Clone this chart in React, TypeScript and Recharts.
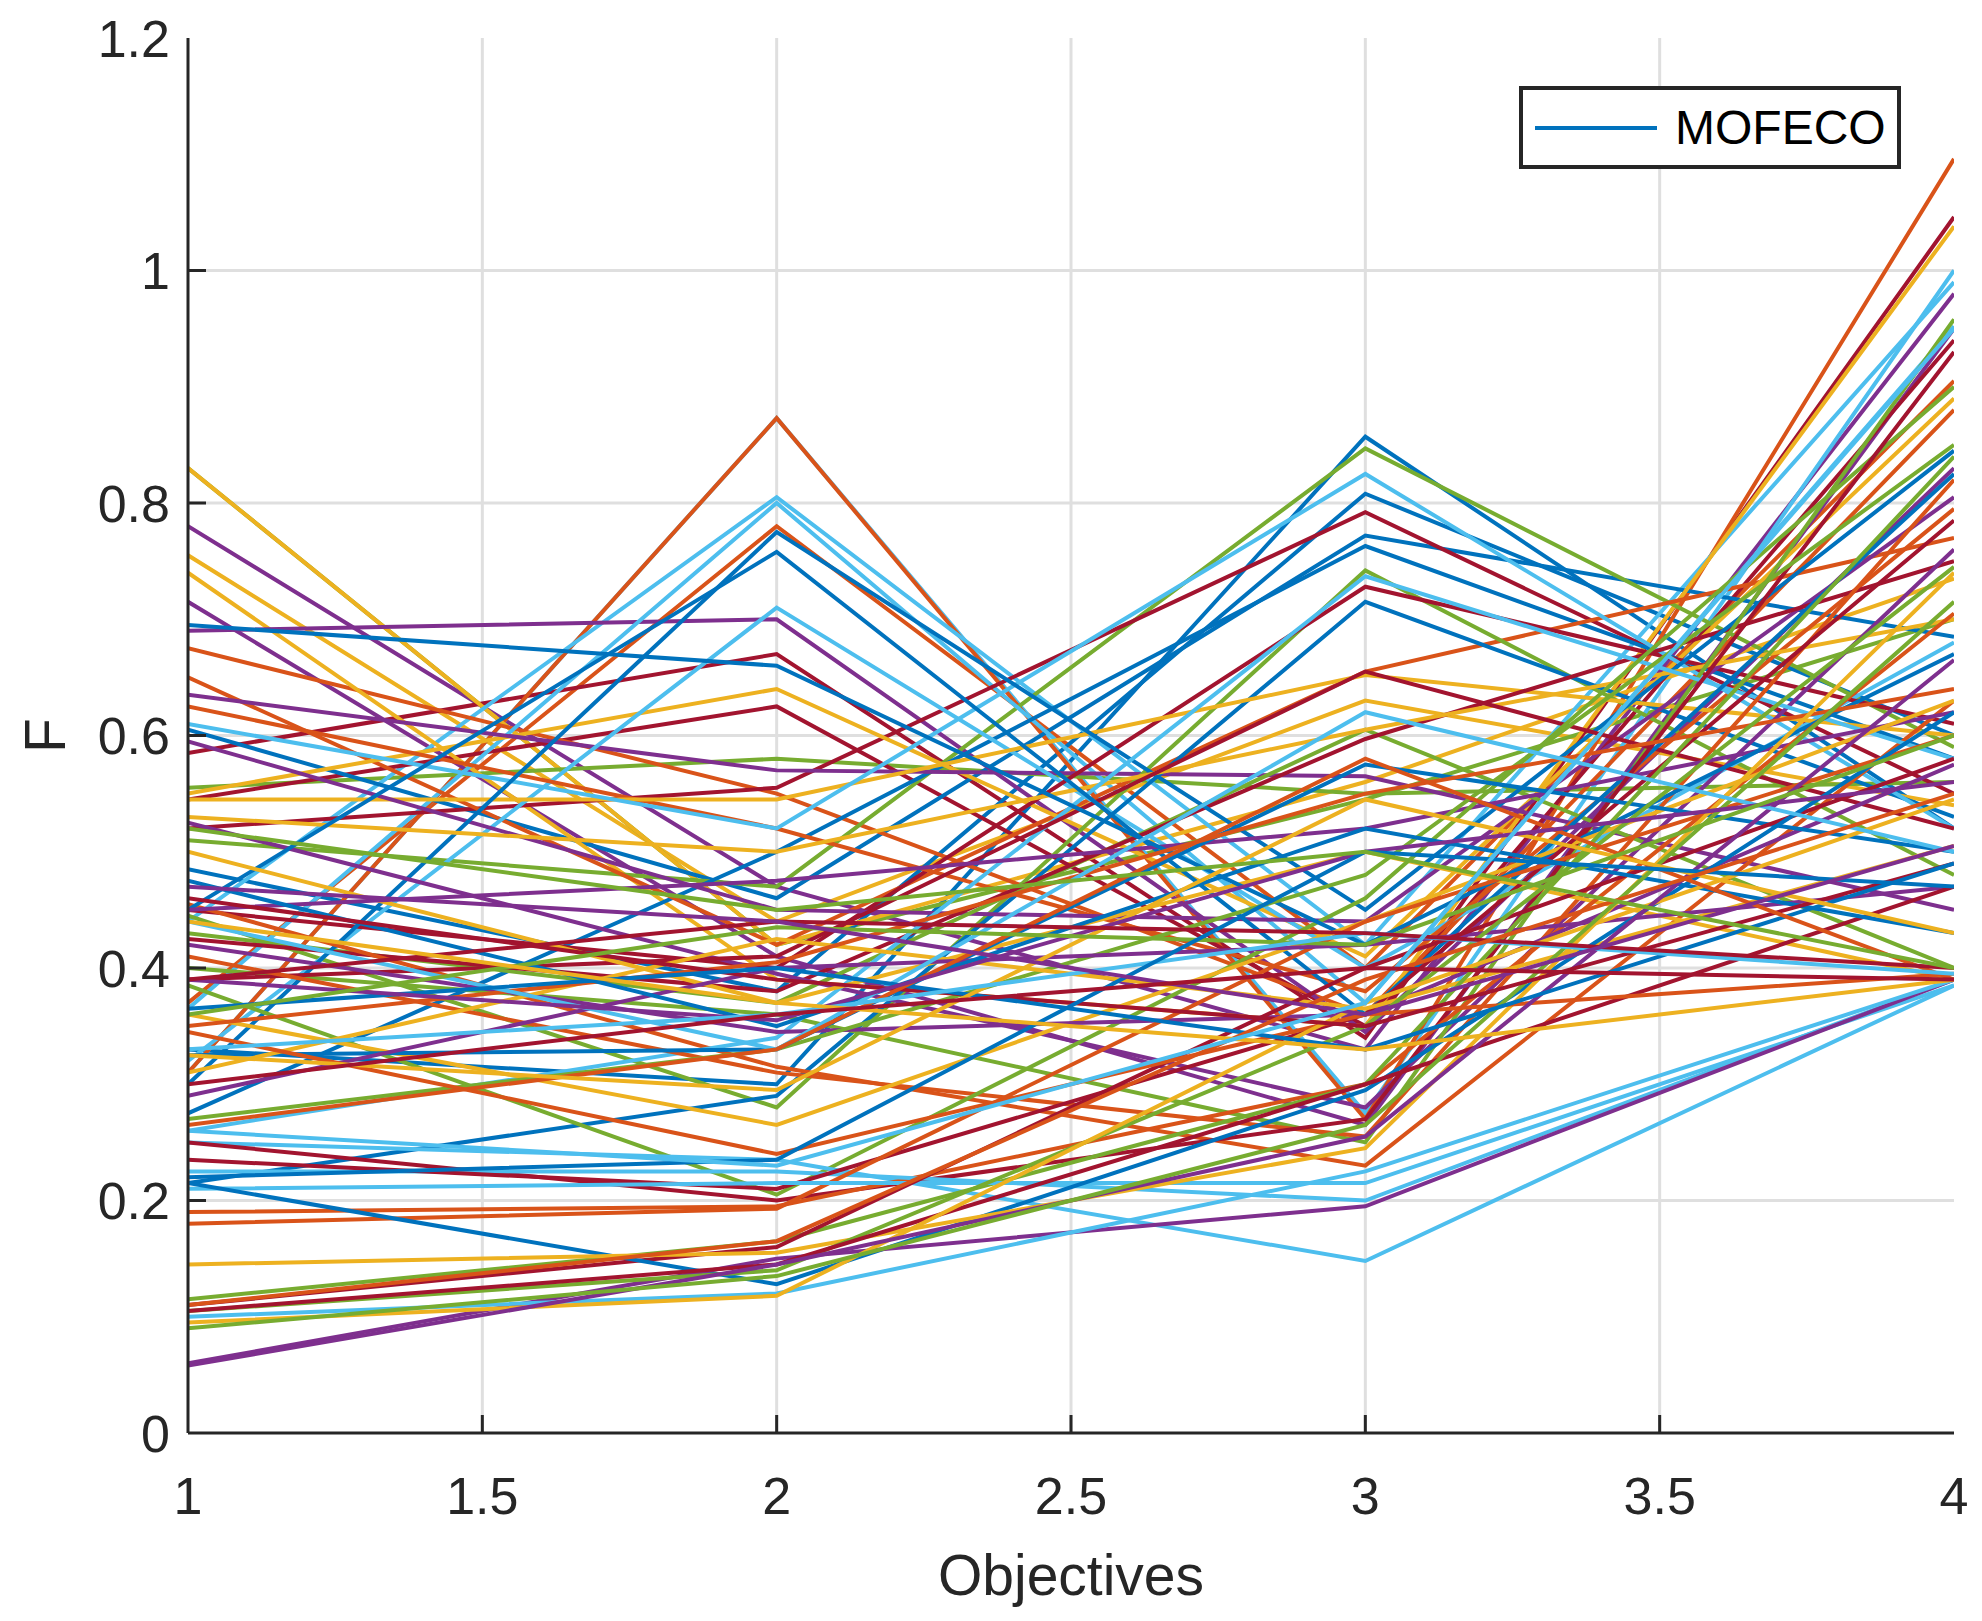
import React from 'react';
import { LineChart, Line, XAxis, YAxis, CartesianGrid, Legend } from 'recharts';

// MATLAB default colour order, applied to the solutions in turn
const COLORS = ['#0072BD', '#D95319', '#EDB120', '#7E2F8E', '#77AC30', '#4DBEEE', '#A2142F'];

const OBJECTIVES = [1, 2, 3, 4];
const X_TICKS = [1, 1.5, 2, 2.5, 3, 3.5, 4];
const Y_TICKS = [0, 0.2, 0.4, 0.6, 0.8, 1, 1.2];
const SERIES_NAME = 'MOFECO';

// one row per solution: F at objectives 1..4
const SOLUTIONS: number[][] = [
  [0.33, 0.30, 0.857, 0.52],
  [0.37, 0.78, 0.40, 0.905],
  [0.755, 0.44, 0.63, 0.54],
  [0.78, 0.47, 0.33, 0.98],
  [0.83, 0.42, 0.545, 0.70],
  [0.31, 0.873, 0.275, 1.0],
  [0.585, 0.67, 0.34, 1.046],

  [0.485, 0.38, 0.808, 0.60],
  [0.31, 0.873, 0.27, 1.096],
  [0.83, 0.42, 0.56, 0.735],
  [0.715, 0.41, 0.265, 0.95],
  [0.555, 0.58, 0.55, 0.56],
  [0.44, 0.805, 0.42, 0.99],
  [0.545, 0.625, 0.35, 0.94],

  [0.605, 0.46, 0.772, 0.685],
  [0.675, 0.55, 0.36, 0.88],
  [0.74, 0.39, 0.35, 1.038],
  [0.69, 0.70, 0.345, 0.83],
  [0.51, 0.47, 0.847, 0.59],
  [0.365, 0.80, 0.37, 0.952],
  [0.52, 0.555, 0.792, 0.55],

  [0.275, 0.50, 0.763, 0.58],
  [0.65, 0.42, 0.655, 0.77],
  [0.55, 0.64, 0.41, 0.89],
  [0.635, 0.57, 0.565, 0.45],
  [0.445, 0.28, 0.742, 0.48],
  [0.32, 0.71, 0.40, 0.68],
  [0.45, 0.40, 0.728, 0.61],

  [0.215, 0.29, 0.715, 0.53],
  [0.625, 0.52, 0.38, 0.795],
  [0.545, 0.545, 0.652, 0.60],
  [0.595, 0.45, 0.44, 0.805],
  [0.43, 0.37, 0.605, 0.40],
  [0.61, 0.52, 0.825, 0.52],
  [0.425, 0.38, 0.597, 0.75],

  [0.30, 0.775, 0.45, 0.845],
  [0.455, 0.315, 0.23, 0.63],
  [0.53, 0.50, 0.605, 0.70],
  [0.525, 0.395, 0.28, 0.76],
  [0.40, 0.36, 0.25, 0.958],
  [0.26, 0.34, 0.737, 0.58],
  [0.39, 0.41, 0.655, 0.52],

  [0.45, 0.758, 0.36, 0.825],
  [0.41, 0.31, 0.255, 0.82],
  [0.50, 0.37, 0.50, 0.39],
  [0.45, 0.475, 0.52, 0.62],
  [0.385, 0.205, 0.46, 0.90],
  [0.25, 0.235, 0.148, 0.385],
  [0.25, 0.20, 0.27, 0.93],

  [0.695, 0.66, 0.42, 0.67],
  [0.19, 0.195, 0.30, 0.705],
  [0.36, 0.265, 0.44, 0.63],
  [0.42, 0.345, 0.36, 0.575],
  [0.27, 0.33, 0.48, 0.85],
  [0.225, 0.225, 0.20, 0.39],
  [0.235, 0.21, 0.36, 0.785],

  [0.325, 0.33, 0.575, 0.50],
  [0.18, 0.193, 0.44, 0.60],
  [0.31, 0.425, 0.365, 0.505],
  [0.29, 0.40, 0.42, 0.47],
  [0.115, 0.165, 0.30, 0.84],
  [0.21, 0.215, 0.215, 0.385],
  [0.11, 0.16, 0.40, 0.58],

  [0.215, 0.128, 0.295, 0.62],
  [0.35, 0.405, 0.55, 0.64],
  [0.145, 0.155, 0.245, 0.74],
  [0.06, 0.15, 0.195, 0.39],
  [0.105, 0.14, 0.35, 0.745],
  [0.10, 0.12, 0.225, 0.39],
  [0.105, 0.145, 0.30, 0.47],

  [0.475, 0.35, 0.52, 0.43],
  [0.345, 0.24, 0.36, 0.395],
  [0.095, 0.118, 0.37, 0.545],
  [0.058, 0.145, 0.255, 0.665],
  [0.09, 0.135, 0.265, 0.715],
  [0.44, 0.33, 0.62, 0.50],
  [0.46, 0.39, 0.35, 0.49],

  [0.365, 0.40, 0.33, 0.49],
  [0.265, 0.33, 0.58, 0.39],
  [0.325, 0.295, 0.545, 0.43],
  [0.39, 0.355, 0.50, 0.56],
  [0.36, 0.435, 0.42, 0.60],
  [0.33, 0.36, 0.43, 0.395],
  [0.39, 0.44, 0.43, 0.40],

  [0.22, 0.235, 0.50, 0.47],
  [0.11, 0.165, 0.39, 0.55],
  [0.44, 0.37, 0.33, 0.39],
  [0.47, 0.44, 0.36, 0.505],
  [0.52, 0.45, 0.50, 0.40],
  [0.26, 0.23, 0.37, 0.95],
  [0.30, 0.36, 0.40, 0.39],
];

const data = OBJECTIVES.map((x, j) => {
  const row: Record<string, number> = { x };
  SOLUTIONS.forEach((s, i) => {
    row[`s${i}`] = s[j];
  });
  return row;
});

const FONT = '"Liberation Sans", Arial, Helvetica, sans-serif';
const AXIS = '#262626';
const TICK_LEN = 18;
const X_MARGIN = 44;
const Y_MARGIN = 18;
const LEGEND_H = 83;
const W = 1966;
const H = 1605;

const BottomTick = (props: any) => {
  const { x, y, payload } = props;
  const axisY = y - X_MARGIN;
  return (
    <g>
      {payload.value !== 1 && payload.value !== 4 && (
        <line x1={x} x2={x} y1={axisY} y2={axisY - TICK_LEN} stroke={AXIS} strokeWidth={3} />
      )}
      <text x={x} y={y} dy="0.72em" textAnchor="middle" fill={AXIS} fontSize={52} fontFamily={FONT}>
        {payload.value}
      </text>
    </g>
  );
};

const LeftTick = (props: any) => {
  const { x, y, payload } = props;
  const axisX = x + Y_MARGIN;
  return (
    <g>
      {payload.value !== 0 && payload.value !== 1.2 && (
        <line x1={axisX} x2={axisX + TICK_LEN} y1={y} y2={y} stroke={AXIS} strokeWidth={3} />
      )}
      <text x={x} y={y} dy="0.36em" textAnchor="end" fill={AXIS} fontSize={52} fontFamily={FONT}>
        {payload.value}
      </text>
    </g>
  );
};

const TopTick = (props: any) => {
  const { x, y, payload } = props;
  if (payload.value === 1 || payload.value === 4) return <g />;
  return <line x1={x} x2={x} y1={y} y2={y + TICK_LEN} stroke={AXIS} strokeWidth={3} />;
};

const RightTick = (props: any) => {
  const { x, y, payload } = props;
  if (payload.value === 0 || payload.value === 1.2) return <g />;
  return <line x1={x} x2={x - TICK_LEN} y1={y} y2={y} stroke={AXIS} strokeWidth={3} />;
};

const renderLegend = () => (
  <div
    style={{
      boxSizing: 'border-box',
      width: 382,
      height: LEGEND_H,
      border: `4px solid ${AXIS}`,
      background: '#fff',
      display: 'flex',
      alignItems: 'center',
      fontFamily: FONT,
      fontSize: 48,
      color: '#000',
    }}
  >
    <svg width={140} height={20} style={{ marginLeft: 12 }}>
      <line x1={0} x2={122} y1={10} y2={10} stroke={COLORS[0]} strokeWidth={4} />
    </svg>
    <span>{SERIES_NAME}</span>
  </div>
);

export default function App() {
  return (
    <div style={{ width: W, height: H, background: '#fff' }}>
      <LineChart
        width={W}
        height={H}
        data={data}
        margin={{ top: 30, right: 20, bottom: 100 - LEGEND_H, left: 100 }}
      >
        <CartesianGrid
          stroke="#dfdfdf"
          strokeWidth={3}
          verticalValues={[1.5, 2, 2.5, 3, 3.5]}
          horizontalValues={[0.2, 0.4, 0.6, 0.8, 1]}
        />
        <XAxis
          dataKey="x"
          type="number"
          domain={[1, 4]}
          ticks={X_TICKS}
          interval={0}
          height={80}
          tickSize={0}
          tickMargin={X_MARGIN}
          tick={<BottomTick />}
          stroke={AXIS}
          strokeWidth={3}
          allowDataOverflow
          label={(p: any) => {
            const vb = p.viewBox || {};
            return (
              <text
                x={vb.x + vb.width / 2}
                y={vb.y + 162}
                textAnchor="middle"
                fill={AXIS}
                fontSize={57}
                fontFamily={FONT}
              >
                Objectives
              </text>
            );
          }}
        />
        <XAxis
          xAxisId="top"
          dataKey="x"
          type="number"
          orientation="top"
          domain={[1, 4]}
          ticks={X_TICKS}
          interval={0}
          height={0}
          tickSize={0}
          tick={<TopTick />}
          stroke={AXIS}
          strokeWidth={3}
          allowDataOverflow
        />
        <YAxis
          type="number"
          domain={[0, 1.2]}
          ticks={Y_TICKS}
          interval={0}
          width={80}
          tickSize={0}
          tickMargin={Y_MARGIN}
          tick={<LeftTick />}
          stroke={AXIS}
          strokeWidth={3}
          allowDataOverflow
          label={(p: any) => {
            const vb = p.viewBox || {};
            const cx = 36;
            const cy = vb.y + vb.height / 2;
            return (
              <text
                x={cx}
                y={cy}
                transform={`rotate(-90 ${cx} ${cy})`}
                textAnchor="middle"
                dy="0.36em"
                fill={AXIS}
                fontSize={57}
                fontFamily={FONT}
              >
                F
              </text>
            );
          }}
        />
        <YAxis
          yAxisId="right"
          type="number"
          orientation="right"
          domain={[0, 1.2]}
          ticks={Y_TICKS}
          interval={0}
          width={0}
          tickSize={0}
          tick={<RightTick />}
          stroke={AXIS}
          strokeWidth={3}
          allowDataOverflow
        />
        <Legend
          content={renderLegend}
          wrapperStyle={{ position: 'absolute', left: 1511, top: 78, width: 382, height: LEGEND_H }}
        />
        {SOLUTIONS.map((_, i) => (
          <Line
            key={i}
            dataKey={`s${i}`}
            name={i === 0 ? SERIES_NAME : `s${i}`}
            type="linear"
            stroke={COLORS[i % COLORS.length]}
            strokeWidth={4}
            dot={false}
            legendType={i === 0 ? 'line' : 'none'}
            isAnimationActive={false}
          />
        ))}
      </LineChart>
    </div>
  );
}
